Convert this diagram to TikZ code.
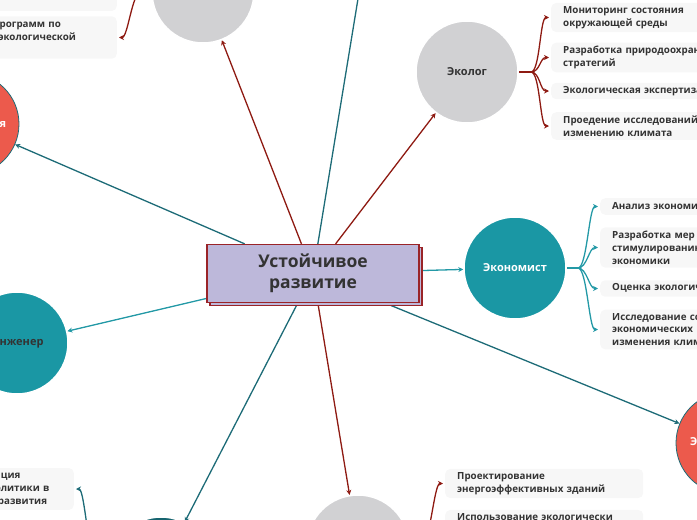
\documentclass[tikz,border=0pt]{standalone}
\usepackage{fontspec}
\setmainfont{Open Sans}
\usetikzlibrary{arrows.meta,shadows}
\pgfdeclarelayer{bg}
\pgfsetlayers{bg,main}
\definecolor{dred}{HTML}{8E1A12}
\definecolor{tealdk}{HTML}{1D6B77}
\definecolor{teallt}{HTML}{2399A6}
\definecolor{tealfill}{HTML}{1A97A4}
\definecolor{tealdkfill}{HTML}{16646F}
\definecolor{redfill}{HTML}{EC5A4C}
\definecolor{grayfill}{HTML}{D1D1D3}
\definecolor{mainfill}{HTML}{BDB8DA}
\definecolor{mainborder}{HTML}{9A2428}
\definecolor{txt}{HTML}{333333}
\definecolor{itembg}{HTML}{F7F7F7}
\tikzset{
  circ/.style={circle, minimum size=102pt, inner sep=0pt, draw=white, line width=1.5pt,
    font=\bfseries\fontsize{11}{13}\selectfont},
  graycirc/.style={circ, fill=grayfill, text=txt},
  tealcirc/.style={circ, fill=tealfill, text=white},
  redcirc/.style={circ, fill=redfill, draw=tealdk, line width=0.8pt, text=white},
  central/.style={rectangle, minimum width=212pt, minimum height=58pt, fill=mainfill,
    draw=mainborder, line width=1.3pt, align=center, text=txt,
    font=\bfseries\fontsize{17.5}{20.5}\selectfont,
    copy shadow={shadow xshift=3pt, shadow yshift=-3pt, fill=mainfill, draw=mainborder, line width=1.3pt}},
  item/.style={fill=itembg, rounded corners=5pt, text=txt, align=left, text width=174pt,
    inner xsep=12pt, inner ysep=3.5pt, font=\bfseries\fontsize{9.8}{12.8}\selectfont},
  tip/.style={-{Stealth[length=5pt,width=5pt]}},
  ln/.style={line width=1.3pt},
  stub/.style={line width=2.6pt},
}
\begin{document}
\begin{tikzpicture}[x=1pt,y=-1pt]
\useasboundingbox (0,0) rectangle (697,520);
\clip (0,0) rectangle (697,520);

% central
\node[central] (main) at (313,273.5) {Устойчивое\\развитие};

% circles
\node[graycirc] (ekolog) at (467,72) {Эколог};
\node[graycirc] (topg) at (203,-8) {Социолог};
\node[redcirc] (redl) at (-32,124) {Политология};
\node[tealcirc, text=txt] (ing) at (17,343) {Инженер};
\node[tealcirc] (econ) at (515,268) {Экономист};
\node[redcirc] (redr) at (727,443) {Энергоаудит};
\node[graycirc] (botg) at (358,546) {};
\node[tealcirc, fill=tealdkfill] (botl) at (161,568) {};
\coordinate (topend) at (366,-50);

% Эколог items
\node[item, anchor=west] (e1) at (551,17.5) {Мониторинг состояния\\окружающей среды};
\node[item, anchor=west] (e2) at (551,57.5) {Разработка природоохранных\\стратегий};
\node[item, anchor=west] (e3) at (551,91) {Экологическая экспертиза};
\node[item, anchor=west] (e4) at (551,126) {Проедение исследований по\\изменению климата};

% Экономист items
\node[item, text width=250pt, anchor=west] (c1) at (600,206.5) {Анализ экономических последствий};
\node[item, text width=250pt, anchor=west] (c2) at (600,247.5) {Разработка мер по\\стимулированию зеленой\\экономики};
\node[item, text width=250pt, anchor=west] (c3) at (600,288.5) {Оценка экологических рисков};
\node[item, text width=250pt, anchor=west] (c4) at (600,329.5) {Исследование социально-\\экономических последствий\\изменения климата};

% top-left items
\node[item, anchor=east] (t1) at (117,-10) {Проведение тренингов по\\экологическом образовании сотруд};
\node[item, anchor=east] (t2) at (117,37.5) {Разработка программ по\\повышению экологической\\грамотности};

% bottom items
\node[item, anchor=west] (b1) at (445,483.5) {Проектирование\\энергоэффективных зданий};
\node[item, anchor=west] (b2) at (445,524.5) {Использование экологически\\чистых материалов};

% bottom-left item
\node[item, text width=154pt, anchor=east] (l1) at (74,489) {Анализ и интеграция\\экологической политики в\\ход устойчивого развития};

\begin{pgfonlayer}{bg}
\draw[ln, dred, tip] (main) -- (ekolog);
\draw[ln, dred, tip] (main) -- (topg);
\draw[ln, dred, tip] (main) -- (botg);
\draw[ln, tealdk] (main) -- (topend);
\draw[ln, tealdk, tip] (main) -- (redl);
\draw[ln, teallt, tip] (main) -- (ing);
\draw[ln, teallt, tip] (main) -- (econ);
\draw[ln, tealdk, tip] (main) -- (redr);
\draw[ln, tealdk, tip] (main) -- (botl);

% Эколог branches
\coordinate (ekj) at (531,72);
\draw[stub, dred] (ekolog.east) -- (ekj);
\foreach \n in {e1,e2,e3,e4}
  \draw[ln, dred, tip, shorten >=2pt] (ekj) .. controls +(9,0) and +(-11,0) .. (\n.west);

% Экономист branches
\coordinate (ecj) at (578,268);
\draw[stub, teallt] (econ.east) -- (ecj);
\foreach \n in {c1,c2,c3,c4}
  \draw[ln, teallt, tip, shorten >=2pt] (ecj) .. controls +(9,0) and +(-11,0) .. (\n.west);

% top gray branches
\coordinate (tgj) at (141,-8);
\draw[stub, dred] (topg.west) -- (tgj);
\foreach \n in {t1,t2}
  \draw[ln, dred, tip, shorten >=2pt] (tgj) .. controls +(-9,0) and +(11,0) .. (\n.east);

% bottom gray branches
\coordinate (bgj) at (421,546);
\draw[stub, dred] (botg.east) -- (bgj);
\foreach \n in {b1,b2}
  \draw[ln, dred, tip, shorten >=2pt] (bgj) .. controls +(9,0) and +(-11,0) .. (\n.west);

% bottom-left branches
\coordinate (blj) at (98,568);
\draw[stub, tealdk] (botl.west) -- (blj);
\draw[ln, tealdk, tip, shorten >=2pt] (blj) .. controls +(-9,0) and +(11,0) .. (l1.east);
\end{pgfonlayer}
\end{tikzpicture}
\end{document}
